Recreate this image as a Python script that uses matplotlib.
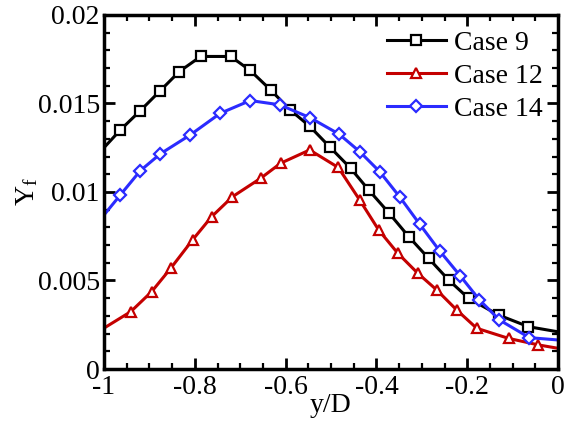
import matplotlib
matplotlib.use("Agg")
import matplotlib.pyplot as plt
from matplotlib.ticker import MultipleLocator

plt.rcParams['font.family'] = 'Liberation Serif'
plt.rcParams['mathtext.fontset'] = 'custom'
plt.rcParams['mathtext.rm'] = 'Liberation Serif'
plt.rcParams['mathtext.it'] = 'Liberation Serif:italic'

# Case 9 (black squares); first and last points are line end points only
x9 = [-1.0, -0.964, -0.920, -0.876, -0.834, -0.787, -0.721, -0.678, -0.633, -0.590,
      -0.547, -0.502, -0.457, -0.417, -0.373, -0.329, -0.285, -0.241, -0.197,
      -0.131, -0.065, 0.0]
y9 = [0.01250, 0.01350, 0.01459, 0.01572, 0.01680, 0.01765, 0.01765, 0.01686, 0.01576, 0.01463,
      0.01371, 0.01252, 0.01134, 0.01011, 0.00883, 0.00748, 0.00625, 0.00503, 0.00399,
      0.00305, 0.00239, 0.00210]

# Case 12 (red triangles)
x12 = [-1.0, -0.941, -0.895, -0.853, -0.805, -0.763, -0.717, -0.655, -0.611, -0.547,
       -0.484, -0.437, -0.395, -0.353, -0.309, -0.267, -0.223, -0.179, -0.109, -0.043, 0.0]
y12 = [0.00231, 0.00324, 0.00437, 0.00569, 0.00729, 0.00860, 0.00973, 0.01077, 0.01162, 0.01237,
       0.01138, 0.00955, 0.00785, 0.00654, 0.00541, 0.00446, 0.00333, 0.00230, 0.00173, 0.00136, 0.00117]

# Case 14 (blue diamonds)
x14 = [-1.0, -0.964, -0.920, -0.876, -0.810, -0.744, -0.678, -0.613, -0.546,
       -0.482, -0.437, -0.393, -0.349, -0.305, -0.261, -0.215, -0.173, -0.129, -0.063, 0.0]
y14 = [0.00870, 0.00983, 0.01120, 0.01215, 0.01322, 0.01444, 0.01516, 0.01492, 0.01419,
       0.01326, 0.01228, 0.01115, 0.00973, 0.00819, 0.00668, 0.00525, 0.00390, 0.00277, 0.00177, 0.00164]

labels = ['Case 9', 'Case 12', 'Case 14']
xticks = [-1, -0.8, -0.6, -0.4, -0.2, 0]
xticklabels = ['-1', '-0.8', '-0.6', '-0.4', '-0.2', '0']
yticks = [0, 0.005, 0.01, 0.015, 0.02]
yticklabels = ['0', '0.005', '0.01', '0.015', '0.02']

fig = plt.figure(figsize=(5.87, 4.24), dpi=100)
ax = fig.add_axes([0.1772, 0.1297, 0.7734, 0.8353])

common = dict(lw=2.2, markerfacecolor='white', markeredgewidth=1.6)
ax.plot(x9, y9, color='black', marker='s', markersize=7.5, markevery=list(range(1, len(x9) - 1)),
        label=labels[0], **common)
ax.plot(x12, y12, color='#C40000', marker='^', markersize=7.5, markevery=list(range(1, len(x12) - 1)),
        label=labels[1], **common)
ax.plot(x14, y14, color='#2B2BFF', marker='D', markersize=6.5, markevery=list(range(1, len(x14) - 1)),
        label=labels[2], **common)

ax.set_xlim(-1, 0)
ax.set_ylim(0, 0.02)
ax.set_xticks(xticks)
ax.set_xticklabels(xticklabels)
ax.set_yticks(yticks)
ax.set_yticklabels(yticklabels)
ax.xaxis.set_minor_locator(MultipleLocator(0.05))
ax.yaxis.set_minor_locator(MultipleLocator(0.001))
ax.tick_params(which='both', direction='in', top=True, right=True, labelsize=20, width=2)
ax.tick_params(which='major', length=8, pad=4)
ax.tick_params(which='minor', length=4.5, width=1.6)
ax.tick_params(axis='y', pad=3)
ax.tick_params(axis='x', pad=4)
for s in ax.spines.values():
    s.set_linewidth(2.5)

ax.set_xlabel('y/D', fontsize=20, labelpad=-5)
ax.set_ylabel(r'Y$_{\mathrm{f}}$', fontsize=20, labelpad=-2)

ax.legend(loc='upper right', frameon=False, fontsize=20, handlelength=2.1,
          handletextpad=0.3, labelspacing=0.28, borderaxespad=0.15,
          bbox_to_anchor=(1.0, 1.0))

fig.savefig('out.png', dpi=100)
